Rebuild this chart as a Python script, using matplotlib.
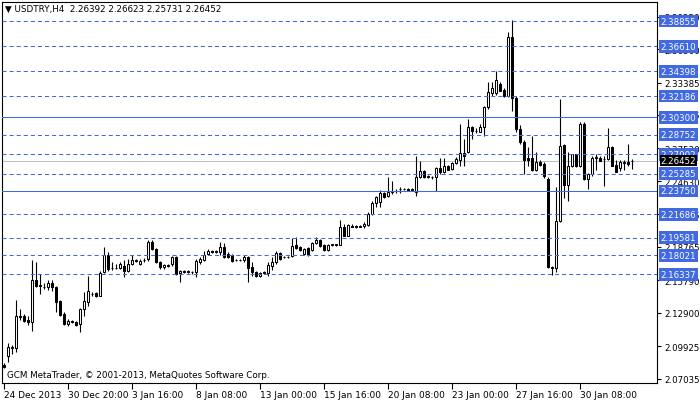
import matplotlib
matplotlib.use("Agg")
import matplotlib.pyplot as plt
import matplotlib.transforms as mtransforms
import numpy as np

# USDTRY H4 candles, 24 Dec 2013 .. 31 Jan 2014
opens = [
    2.0827, 2.0910, 2.0980, 2.0976, 2.1262, 2.1260, 2.1230, 2.1207, 2.1583, 2.1535,
    2.1525, 2.1518, 2.1556, 2.1518, 2.1399, 2.1281, 2.1192, 2.1214, 2.1207, 2.1192,
    2.1325, 2.1390, 2.1462, 2.1467, 2.1443, 2.1651, 2.1805, 2.1688, 2.1690, 2.1687,
    2.1705, 2.1666, 2.1725, 2.1758, 2.1725, 2.1760, 2.1770, 2.1923, 2.1859, 2.1746,
    2.1696, 2.1712, 2.1725, 2.1785, 2.1645, 2.1660, 2.1657, 2.1653, 2.1651, 2.1740,
    2.1763, 2.1814, 2.1838, 2.1834, 2.1835, 2.1874, 2.1814, 2.1805, 2.1760, 2.1762,
    2.1763, 2.1785, 2.1696, 2.1651, 2.1616, 2.1648, 2.1645, 2.1705, 2.1746, 2.1823,
    2.1783, 2.1787, 2.1794, 2.1894, 2.1874, 2.1814, 2.1865, 2.1852, 2.1912, 2.1941,
    2.1894, 2.1852, 2.1895, 2.1899, 2.1897, 2.2051, 2.1977, 2.2063, 2.2058, 2.2062,
    2.2060, 2.2072, 2.2170, 2.2267, 2.2279, 2.2356, 2.2327, 2.2366, 2.2372, 2.2388,
    2.2392, 2.2388, 2.2386, 2.2368, 2.2496, 2.2555, 2.2502, 2.2500, 2.2496, 2.2576,
    2.2540, 2.2594, 2.2570, 2.2623, 2.2652, 2.2712, 2.2718, 2.2940, 2.2908, 2.2901,
    2.2946, 2.3118, 2.3245, 2.3245, 2.3325, 2.3275, 2.3221, 2.3741, 2.3198, 2.2925,
    2.2812, 2.2665, 2.2665, 2.2564, 2.2635, 2.2614, 2.2481, 2.1692, 2.1687, 2.2110,
    2.2783, 2.2427, 2.2594, 2.2700, 2.2594, 2.2970, 2.2481, 2.2528, 2.2668, 2.2670,
    2.2655, 2.2659, 2.2763, 2.2605, 2.2576, 2.2627, 2.2635, 2.26392,
]
highs = [
    2.0845, 2.1023, 2.1005, 2.1408, 2.1325, 2.1281, 2.1263, 2.1761, 2.1746, 2.1636,
    2.1556, 2.1583, 2.1583, 2.1532, 2.1405, 2.1298, 2.1236, 2.1225, 2.1218, 2.1334,
    2.1479, 2.1621, 2.1476, 2.1476, 2.1666, 2.1874, 2.1829, 2.1746, 2.1725, 2.1746,
    2.1763, 2.1770, 2.1805, 2.1770, 2.1770, 2.1778, 2.1941, 2.1941, 2.1865, 2.1752,
    2.1725, 2.1725, 2.1799, 2.1792, 2.1675, 2.1670, 2.1668, 2.1663, 2.1770, 2.1787,
    2.1843, 2.1859, 2.1850, 2.1848, 2.1923, 2.1912, 2.1832, 2.1814, 2.1770, 2.1772,
    2.1807, 2.1799, 2.1740, 2.1663, 2.1654, 2.1660, 2.1740, 2.1785, 2.1843, 2.1832,
    2.1795, 2.1797, 2.1954, 2.1963, 2.1885, 2.1865, 2.1876, 2.1920, 2.1963, 2.1951,
    2.1903, 2.1903, 2.1905, 2.1907, 2.2119, 2.2081, 2.2081, 2.2080, 2.2070, 2.2075,
    2.2098, 2.2187, 2.2285, 2.2332, 2.2386, 2.2365, 2.2496, 2.2466, 2.2390, 2.2412,
    2.2405, 2.2400, 2.2398, 2.2688, 2.2643, 2.2563, 2.2515, 2.2510, 2.2585, 2.2665,
    2.2665, 2.2605, 2.2630, 2.2676, 2.2970, 2.2836, 2.3014, 2.2955, 2.2932, 2.2970,
    2.3133, 2.3346, 2.3346, 2.3444, 2.3343, 2.3290, 2.3785, 2.3897, 2.3221, 2.2961,
    2.2830, 2.2763, 2.2866, 2.2718, 2.2650, 2.2629, 2.2496, 2.1710, 2.2407, 2.3192,
    2.2790, 2.2718, 2.2705, 2.2705, 2.2990, 2.2985, 2.2535, 2.2683, 2.2703, 2.2681,
    2.2688, 2.2932, 2.2772, 2.2652, 2.2652, 2.2652, 2.2792, 2.26623,
]
lows = [
    2.0801, 2.0857, 2.0925, 2.0945, 2.1230, 2.1210, 2.1183, 2.1132, 2.1518, 2.1458,
    2.1503, 2.1494, 2.1485, 2.1301, 2.1266, 2.1183, 2.1174, 2.1198, 2.1174, 2.1118,
    2.1266, 2.1354, 2.1440, 2.1432, 2.1440, 2.1645, 2.1666, 2.1675, 2.1681, 2.1681,
    2.1607, 2.1657, 2.1716, 2.1743, 2.1716, 2.1745, 2.1754, 2.1852, 2.1734, 2.1681,
    2.1685, 2.1700, 2.1710, 2.1627, 2.1568, 2.1645, 2.1648, 2.1640, 2.1610, 2.1725,
    2.1754, 2.1805, 2.1823, 2.1822, 2.1805, 2.1776, 2.1780, 2.1747, 2.1750, 2.1752,
    2.1746, 2.1562, 2.1616, 2.1610, 2.1610, 2.1640, 2.1621, 2.1675, 2.1725, 2.1761,
    2.1775, 2.1776, 2.1787, 2.1859, 2.1844, 2.1805, 2.1800, 2.1840, 2.1903, 2.1876,
    2.1845, 2.1845, 2.1888, 2.1889, 2.1893, 2.1971, 2.1974, 2.2050, 2.2048, 2.2050,
    2.2045, 2.2059, 2.2161, 2.2229, 2.2229, 2.2312, 2.2318, 2.2347, 2.2360, 2.2356,
    2.2380, 2.2375, 2.2370, 2.2332, 2.2490, 2.2490, 2.2490, 2.2485, 2.2377, 2.2525,
    2.2534, 2.2557, 2.2565, 2.2614, 2.2599, 2.2599, 2.2712, 2.2836, 2.2890, 2.2895,
    2.2860, 2.3103, 2.3221, 2.3232, 2.3259, 2.3214, 2.3207, 2.3088, 2.2896, 2.2792,
    2.2525, 2.2599, 2.2555, 2.2555, 2.2597, 2.2487, 2.1687, 2.1627, 2.1651, 2.2100,
    2.2309, 2.2288, 2.2590, 2.2590, 2.2590, 2.2475, 2.2392, 2.2510, 2.2564, 2.2638,
    2.2421, 2.2650, 2.2594, 2.2540, 2.2555, 2.2564, 2.2599, 2.25731,
]
closes = [
    2.0809, 2.0990, 2.0990, 2.1266, 2.1255, 2.1221, 2.1212, 2.1583, 2.1532, 2.1530,
    2.1521, 2.1556, 2.1518, 2.1390, 2.1272, 2.1192, 2.1216, 2.1210, 2.1183, 2.1325,
    2.1399, 2.1488, 2.1456, 2.1443, 2.1645, 2.1805, 2.1681, 2.1690, 2.1692, 2.1725,
    2.1666, 2.1725, 2.1763, 2.1752, 2.1754, 2.1765, 2.1923, 2.1859, 2.1740, 2.1696,
    2.1716, 2.1708, 2.1785, 2.1636, 2.1666, 2.1655, 2.1659, 2.1650, 2.1754, 2.1770,
    2.1805, 2.1843, 2.1833, 2.1838, 2.1874, 2.1785, 2.1785, 2.1754, 2.1762, 2.1760,
    2.1785, 2.1687, 2.1651, 2.1621, 2.1645, 2.1651, 2.1716, 2.1746, 2.1823, 2.1770,
    2.1787, 2.1785, 2.1888, 2.1865, 2.1852, 2.1859, 2.1814, 2.1912, 2.1941, 2.1882,
    2.1852, 2.1894, 2.1899, 2.1896, 2.2051, 2.1977, 2.2072, 2.2058, 2.2062, 2.2058,
    2.2081, 2.2170, 2.2267, 2.2318, 2.2356, 2.2318, 2.2368, 2.2370, 2.2377, 2.2392,
    2.2390, 2.2386, 2.2389, 2.2496, 2.2555, 2.2496, 2.2505, 2.2496, 2.2576, 2.2540,
    2.2599, 2.2564, 2.2623, 2.2659, 2.2712, 2.2688, 2.2940, 2.2910, 2.2910, 2.2946,
    2.3118, 2.3252, 2.3287, 2.3361, 2.3266, 2.3221, 2.3741, 2.3198, 2.2925, 2.2812,
    2.2652, 2.2652, 2.2564, 2.2635, 2.2605, 2.2510, 2.1696, 2.1698, 2.2110, 2.2777,
    2.2427, 2.2594, 2.2700, 2.2594, 2.2970, 2.2481, 2.2528, 2.2670, 2.2672, 2.2643,
    2.2659, 2.2763, 2.2599, 2.2546, 2.2629, 2.2631, 2.2618, 2.26452,
]

date_ticks = [0, 16, 32, 48, 64, 80, 96, 112, 128, 144]
date_labels = ["24 Dec 2013", "30 Dec 20:00", "3 Jan 16:00", "8 Jan 08:00",
               "13 Jan 00:00", "15 Jan 16:00", "20 Jan 08:00", "23 Jan 00:00",
               "27 Jan 16:00", "30 Jan 08:00"]
price_ticks = [2.07035, 2.09925, 2.12900, 2.15790, 2.18765, 2.21655,
               2.24630, 2.27530, 2.30505, 2.33385, 2.36360, 2.39250]
dashed_levels = [2.38855, 2.36610, 2.34398, 2.32186, 2.28752, 2.27002,
                 2.25285, 2.21686, 2.19581, 2.18021, 2.16337]
solid_levels = [2.30300, 2.23750]
bid = 2.26452

BLUE = "#4169E1"

o = np.array(opens)
h = np.array(highs)
l = np.array(lows)
c = np.array(closes)
x = np.arange(len(o))

fig = plt.figure(figsize=(7, 4.02), dpi=100)
ax = fig.add_axes([2 / 700, 1 - 384 / 402, 655 / 700, 381.5 / 402])
ax.set_xlim(-0.5, 163.25)
ax.set_ylim(2.0667, 2.4059)

# bid line
ax.axhline(bid, color="#C0C0C0", lw=0.75, zorder=1)

# candles
up = c >= o
ax.vlines(x, l, h, color="black", lw=0.8, zorder=2)
ax.bar(x, np.maximum(np.abs(c - o), 0.00005), bottom=np.minimum(o, c), width=0.55,
       color=np.where(up, "white", "black"), edgecolor="black", linewidth=0.75, zorder=3)

# horizontal levels
for lv in dashed_levels:
    ax.axhline(lv, color=BLUE, lw=0.75, linestyle=(0, (3.9, 2.9)), zorder=4)
for lv in solid_levels:
    ax.axhline(lv, color=BLUE, lw=0.75, zorder=4)

# axes styling
for sp in ax.spines.values():
    sp.set_linewidth(0.8)
    sp.set_color("black")
ax.yaxis.tick_right()
ax.set_yticks(price_ticks)
ax.set_yticklabels([f"{v:.5f}" for v in price_ticks])
ax.tick_params(axis="y", length=3, width=0.8, pad=2, labelsize=6.2, direction="out")
ax.set_xticks(date_ticks)
ax.set_xticklabels(date_labels, ha="left")
ax.tick_params(axis="x", length=4, width=0.8, pad=1, labelsize=6.5, direction="out")

# level labels on the price scale
tr = mtransforms.blended_transform_factory(ax.transAxes, ax.transData)
for lv in dashed_levels + solid_levels:
    ax.text(1.0055, lv, f"{lv:.5f}", transform=tr, fontsize=6.2, color="white",
            va="center", ha="left", clip_on=False, zorder=10,
            bbox=dict(boxstyle="square,pad=0.22", fc=BLUE, ec="none"))
ax.text(1.0055, bid, f"{bid:.5f}", transform=tr, fontsize=6.2, color="white",
        va="center", ha="left", clip_on=False, zorder=11,
        bbox=dict(boxstyle="square,pad=0.12", fc="black", ec="none"))

fig.text(5 / 700, 1 - 9 / 402, "\u25bc USDTRY,H4  2.26392 2.26623 2.25731 2.26452",
         fontsize=6.3, va="center", ha="left")
fig.text(7 / 700, 1 - 376 / 402, "GCM MetaTrader, \u00a9 2001-2013, MetaQuotes Software Corp.",
         fontsize=6.3, va="center", ha="left")

fig.savefig("out.png", dpi=100, facecolor="white")
